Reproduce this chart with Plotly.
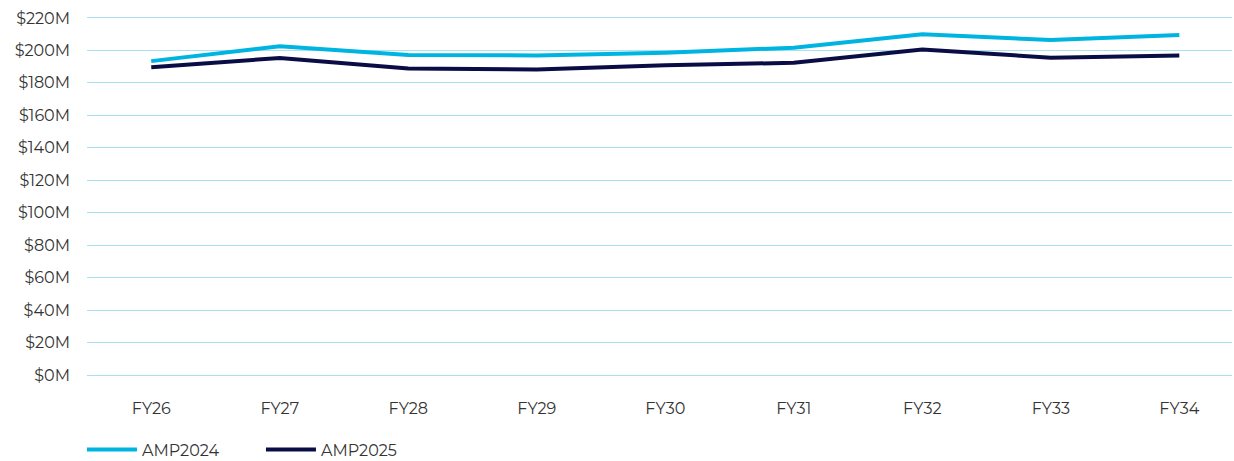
import plotly.graph_objects as go

# Fiscal years and projected values ($M)
years = ["FY26", "FY27", "FY28", "FY29", "FY30", "FY31", "FY32", "FY33", "FY34"]
amp2024 = [193.4, 202.6, 197.1, 196.9, 198.6, 201.7, 209.9, 206.4, 209.5]
amp2025 = [189.7, 195.3, 188.9, 188.3, 190.8, 192.4, 200.6, 195.5, 196.9]
y_ticks = list(range(0, 221, 20))
y_labels = [f"${v}M" for v in y_ticks]

FONT = "Montserrat, 'Open Sans', sans-serif"
TEXT = "#333333"
GRID = "#A8E2F1"

fig = go.Figure()
fig.add_trace(go.Scatter(x=years, y=amp2024, mode="lines", name="AMP2024",
                         line=dict(color="#00B4E1", width=4)))
fig.add_trace(go.Scatter(x=years, y=amp2025, mode="lines", name="AMP2025",
                         line=dict(color="#0A0D45", width=4)))

fig.update_layout(
    width=1234, height=461,
    margin=dict(l=87, r=2, t=16, b=84, autoexpand=False),
    paper_bgcolor="white", plot_bgcolor="white",
    font=dict(family=FONT, size=16, color=TEXT),
    showlegend=True,
    legend=dict(orientation="h", x=-0.0044, xanchor="left",
                yref="container", y=0.025, yanchor="middle",
                font=dict(size=16, color=TEXT), itemwidth=50,
                entrywidth=114, traceorder="normal"),
    xaxis=dict(type="category", range=[-0.5, 8.41], showgrid=False, zeroline=False,
               showline=False, ticks="", ticklabelstandoff=20,
               tickfont=dict(size=16, color=TEXT)),
    yaxis=dict(range=[-1.2, 221.2], tickvals=y_ticks, ticktext=y_labels,
               showgrid=True, gridcolor=GRID, gridwidth=1,
               zeroline=True, zerolinecolor=GRID, zerolinewidth=1,
               showline=False, ticks="", ticklabelstandoff=16,
               tickfont=dict(size=16, color=TEXT)),
)

fig.write_html("out.html")
